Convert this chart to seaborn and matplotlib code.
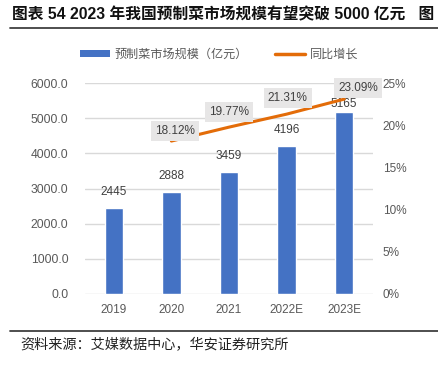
import numpy as np
import pandas as pd
import matplotlib
matplotlib.use("Agg")
import matplotlib.pyplot as plt
import seaborn as sns
from matplotlib.lines import Line2D
from matplotlib.patches import Patch

categories = ["2019", "2020", "2021", "2022E", "2023E"]
market_size = [2445, 2888, 3459, 4196, 5165]
growth_cats = ["2020", "2021", "2022E", "2023E"]
growth = [18.12, 19.77, 21.31, 23.09]
left_ticks = [0, 1000, 2000, 3000, 4000, 5000, 6000]
right_ticks = [0, 5, 10, 15, 20, 25]

title = "图表 54 2023 年我国预制菜市场规模有望突破 5000 亿元   图"
source = "资料来源：艾媒数据中心，华安证券研究所"
bar_label = "预制菜市场规模（亿元）"
line_label = "同比增长"

sns.set_theme(style="white")
plt.rcParams['font.family'] = ['Liberation Sans', 'Noto Sans CJK SC', 'DejaVu Sans']

BLUE = "#4472C4"
ORANGE = "#E36C09"
GRAY = "#595959"

fig = plt.figure(figsize=(4.38, 3.65), dpi=100)
ax = fig.add_axes([85/438, 1-294/365, (373-85)/438, (294-83)/365])

df = pd.DataFrame({"cat": categories, "val": market_size})
sns.barplot(data=df, x="cat", y="val", color=BLUE, saturation=1, width=0.32, ax=ax)
ax.set_ylim(0, 6000)
ax.set_xlim(-0.5, 4.5)
ax.set_yticks(left_ticks)
ax.set_yticklabels([f"{v:.1f}" for v in left_ticks])
ax.yaxis.grid(True, color="#D9D9D9", linewidth=1)
ax.set_axisbelow(True)
for s in ax.spines.values():
    s.set_visible(False)
ax.set_xlabel("")
ax.set_ylabel("")
ax.tick_params(axis="y", length=0, pad=12, labelsize=8.7, labelcolor=GRAY)
ax.tick_params(axis="x", length=0, pad=7, labelsize=8.5, labelcolor=GRAY)

bar_offsets = [10, 10, 10, 10, 2]
for i, (v, off) in enumerate(zip(market_size, bar_offsets)):
    ax.annotate(str(v), (i, v), xytext=(0, off), textcoords="offset pixels",
                ha="center", va="bottom", fontsize=8.5, color="#404040")

ax2 = ax.twinx()
xpos = [categories.index(c) for c in growth_cats]
sns.lineplot(x=xpos, y=growth, color=ORANGE, linewidth=2.2, ax=ax2)
ax2.set_ylim(0, 25)
ax2.set_xlim(-0.5, 4.5)
ax2.set_yticks(right_ticks)
ax2.set_yticklabels([f"{v}%" for v in right_ticks])
for s in ax2.spines.values():
    s.set_visible(False)
ax2.set_ylabel("")
ax2.tick_params(axis="y", length=0, pad=7, labelsize=8.5, labelcolor=GRAY)

offsets = [(4, 10), (0, 15), (1, 16), (14, 11)]
for x, g, off in zip(xpos, growth, offsets):
    ax2.annotate(f"{g:.2f}%", (x, g), xytext=off, textcoords="offset pixels",
                 ha="center", va="center", fontsize=8.5, color="#404040",
                 bbox=dict(boxstyle="square,pad=0.35", fc="#E7E6E6", ec="none"))

handles = [Patch(facecolor=BLUE, edgecolor="none"),
           Line2D([0], [0], color=ORANGE, linewidth=2.5)]
leg = fig.legend(handles, [bar_label, line_label], loc="center",
                 bbox_to_anchor=(0.5, 1-55/365), ncol=2, frameon=False,
                 fontsize=8.7, handlelength=2.5, handleheight=0.45,
                 columnspacing=2.2, handletextpad=0.4)
for t in leg.get_texts():
    t.set_color(GRAY)

fig.text(12/438, 1-15/365, title, fontsize=11.3, fontweight="bold",
         color="#111111", va="center", ha="left")
fig.add_artist(Line2D([10/438, 1], [1-28/365]*2, color="#404040", linewidth=1.3,
                      transform=fig.transFigure))
fig.add_artist(Line2D([10/438, 1], [1-331/365]*2, color="#404040", linewidth=1.3,
                      transform=fig.transFigure))
fig.text(20/438, 1-345/365, source, fontsize=10.2, color="#222222",
         va="center", ha="left")

fig.savefig("out.png", dpi=100)
